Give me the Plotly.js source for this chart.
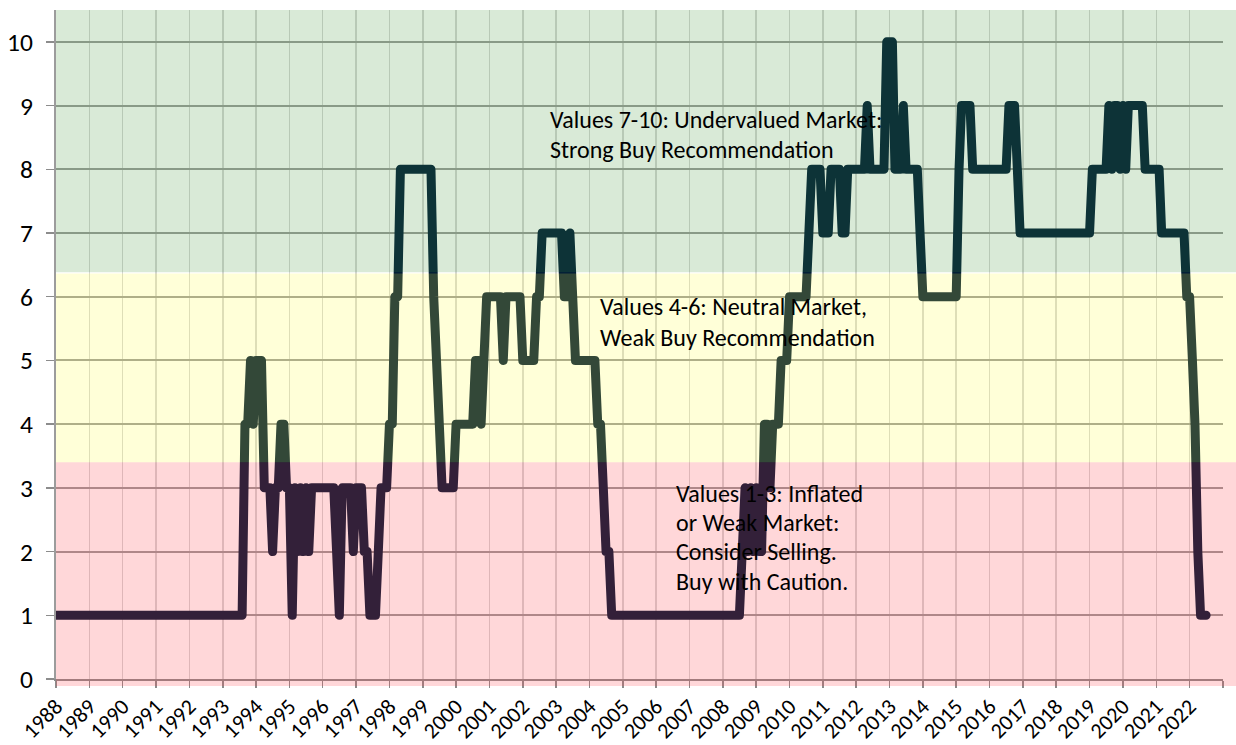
<!DOCTYPE html>
<html>
<head>
<meta charset="utf-8">
<script src="https://cdn.plot.ly/plotly-3.0.1.min.js"></script>
<style>
  html, body { margin: 0; padding: 0; background: #ffffff; }
  #chart { width: 1236px; height: 745px; }
  .js-line { stroke-linejoin: round !important; stroke-linecap: round !important; }
</style>
</head>
<body>
<div id="chart"></div>
<script>
// ---- Data: monthly market score, January 1988 onwards ----
const startYear = 1988;
const scores1988 = [1,1,1,1,1,1,1,1,1,1,1,1];
const scores1989 = [1,1,1,1,1,1,1,1,1,1,1,1];
const scores1990 = [1,1,1,1,1,1,1,1,1,1,1,1];
const scores1991 = [1,1,1,1,1,1,1,1,1,1,1,1];
const scores1992 = [1,1,1,1,1,1,1,1,1,1,1,1];
const scores1993 = [1,1,1,1,1,1,1,1,4,4,5,4];
const scores1994 = [5,5,5,3,3,3,2,3,3,4,4,3];
const scores1995 = [3,1,3,2,3,2,3,2,3,3,3,3];
const scores1996 = [3,3,3,3,3,2,1,3,3,3,3,2];
const scores1997 = [3,3,3,2,2,1,1,1,2,3,3,3];
const scores1998 = [4,4,6,6,8,8,8,8,8,8,8,8];
const scores1999 = [8,8,8,8,6,5,4,3,3,3,3,3];
const scores2000 = [4,4,4,4,4,4,4,5,5,4,5,6];
const scores2001 = [6,6,6,6,6,5,6,6,6,6,6,6];
const scores2002 = [5,5,5,5,5,6,6,7,7,7,7,7];
const scores2003 = [7,7,7,6,6,7,6,5,5,5,5,5];
const scores2004 = [5,5,5,4,4,3,2,2,1,1,1,1];
const scores2005 = [1,1,1,1,1,1,1,1,1,1,1,1];
const scores2006 = [1,1,1,1,1,1,1,1,1,1,1,1];
const scores2007 = [1,1,1,1,1,1,1,1,1,1,1,1];
const scores2008 = [1,1,1,1,1,1,1,2,3,2,3,2];
const scores2009 = [3,2,2,4,4,3,4,4,4,5,5,5];
const scores2010 = [6,6,6,6,6,6,6,7,8,8,8,8];
const scores2011 = [7,7,7,8,8,8,8,7,7,8,8,8];
const scores2012 = [8,8,8,8,9,8,8,8,8,8,8,10];
const scores2013 = [10,10,8,8,8,9,8,8,8,8,8,7];
const scores2014 = [6,6,6,6,6,6,6,6,6,6,6,6];
const scores2015 = [6,8,9,9,9,9,8,8,8,8,8,8];
const scores2016 = [8,8,8,8,8,8,8,9,9,9,8,7];
const scores2017 = [7,7,7,7,7,7,7,7,7,7,7,7];
const scores2018 = [7,7,7,7,7,7,7,7,7,7,7,7];
const scores2019 = [7,8,8,8,8,8,8,9,8,9,9,8];
const scores2020 = [9,8,9,9,9,9,9,9,8,8,8,8];
const scores2021 = [8,8,7,7,7,7,7,7,7,7,7,6];
const scores2022 = [6,5,4,2,1,1,1];

const tickYears = ['1988','1989','1990','1991','1992','1993','1994','1995','1996','1997','1998','1999',
  '2000','2001','2002','2003','2004','2005','2006','2007','2008','2009','2010','2011','2012','2013',
  '2014','2015','2016','2017','2018','2019','2020','2021','2022'];
const yTicks = [0,1,2,3,4,5,6,7,8,9,10];

const zoneLines = [
  ['Values 7-10: Undervalued Market:', 'Strong Buy Recommendation'],
  ['Values 4-6: Neutral Market,', 'Weak Buy Recommendation'],
  ['Values 1-3: Inflated', 'or Weak Market:', 'Consider Selling.', 'Buy with Caution.']
];

// ---- Build series ----
const yearly = [scores1988,scores1989,scores1990,scores1991,scores1992,scores1993,scores1994,scores1995,
  scores1996,scores1997,scores1998,scores1999,scores2000,scores2001,scores2002,scores2003,scores2004,
  scores2005,scores2006,scores2007,scores2008,scores2009,scores2010,scores2011,scores2012,scores2013,
  scores2014,scores2015,scores2016,scores2017,scores2018,scores2019,scores2020,scores2021,scores2022];
const xs = [], ys = [];
yearly.forEach((arr, i) => {
  arr.forEach((v, m) => {
    xs.push((startYear + i) + '-' + String(m + 1).padStart(2, '0') + '-01');
    ys.push(v);
  });
});

const tickVals = tickYears.map(y => y + '-01-01').concat(['2023-01-01']);
const tickText = tickYears.concat(['']);

// ---- Font selection and sizing (match reference text widths) ----
const ctx = document.createElement('canvas').getContext('2d');
function widthOf(text, family, size) {
  ctx.font = size + 'px ' + family;
  return ctx.measureText(text).width;
}
function hasFont(name) {
  const probe = 'Values 7-10: Undervalued Market: 1988';
  return widthOf(probe, '"' + name + '", monospace', 40) !== widthOf(probe, 'monospace', 40);
}
const FAMILY = hasFont('Carlito') ? 'Carlito' : (hasFont('Lato') ? 'Lato' : 'Open Sans');
const FONT = '"' + FAMILY + '", sans-serif';
function sizeFor(text, targetWidth) {
  return Math.round(targetWidth / widthOf(text, FONT, 100) * 100 * 2) / 2;
}
const annSize = sizeFor('Values 7-10: Undervalued Market:', 332);
const yTickSize = sizeFor('10', 26);
const xTickSize = sizeFor('1988', 45);

// ---- Layout geometry ----
const yMax = 10.5;
const plotH = 745 - 10 - 66;
const plotW = 1236 - 56 - 13;
const redTop = 3.4, yellowTop = 6.365, greenBottom = 6.385;
const belowPx = 7 / plotH;
const rightExt = 1 + 13 / plotW;

const shapes = [
  {type:'rect', xref:'paper', yref:'paper', x0:0, x1:rightExt, y0:-belowPx, y1:redTop / yMax,
   fillcolor:'rgb(255,55,65)', opacity:0.2, line:{width:0}, layer:'above'},
  {type:'rect', xref:'paper', yref:'paper', x0:0, x1:rightExt, y0:redTop / yMax, y1:yellowTop / yMax,
   fillcolor:'rgb(255,255,60)', opacity:0.2, line:{width:0}, layer:'above'},
  {type:'rect', xref:'paper', yref:'paper', x0:0, x1:rightExt, y0:greenBottom / yMax, y1:1,
   fillcolor:'rgb(65,150,55)', opacity:0.2, line:{width:0}, layer:'above'}
];

// annotation positions (pixel coords converted to paper)
const textBlocks = [
  {x:548, ys:[120, 150]},
  {x:598, ys:[307, 337]},
  {x:674, ys:[493, 522, 551, 581]}
];
const annotations = [];
zoneLines.forEach((lines, bi) => {
  lines.forEach((t, li) => {
    annotations.push({
      xref:'paper', yref:'paper',
      x:(textBlocks[bi].x - 56) / plotW,
      y:(679 - textBlocks[bi].ys[li]) / plotH,
      xanchor:'left', yanchor:'middle', showarrow:false,
      text:t, font:{family:FONT, size:annSize, color:'#000000'}
    });
  });
});

const trace = {
  type:'scatter', mode:'lines', x:xs, y:ys,
  line:{color:'rgb(0,27,55)', width:9},
  hoverinfo:'x+y', showlegend:false
};

const layout = {
  width:1236, height:745,
  margin:{l:56, r:13, t:10, b:66},
  paper_bgcolor:'#ffffff', plot_bgcolor:'#ffffff',
  showlegend:false,
  font:{family:FONT, color:'#000000'},
  xaxis:{
    type:'date', range:['1988-01-01', '2023-01-02'],
    tickmode:'array', tickvals:tickVals, ticktext:tickText,
    tickangle:-45, tickfont:{family:FONT, size:xTickSize, color:'#000000'},
    ticks:'outside', ticklen:7, tickwidth:1.5, tickcolor:'#8c8c8c',
    ticklabelstandoff:-3,
    showgrid:true, gridcolor:'#d6d6d6', gridwidth:1.5,
    showline:true, linecolor:'#8c8c8c', linewidth:2,
    zeroline:false, fixedrange:true
  },
  yaxis:{
    range:[0, yMax], tickmode:'array', tickvals:yTicks,
    tickfont:{family:FONT, size:yTickSize, color:'#000000'},
    ticks:'outside', ticklen:8, tickwidth:1.5, tickcolor:'#8c8c8c',
    ticklabelstandoff:8,
    showgrid:true, gridcolor:'#9c9c9c', gridwidth:2,
    showline:true, linecolor:'#9c9c9c', linewidth:2,
    zeroline:false, fixedrange:true
  },
  shapes:shapes,
  annotations:annotations
};

Plotly.newPlot('chart', [trace], layout, {staticPlot:true, displayModeBar:false});
</script>
</body>
</html>
